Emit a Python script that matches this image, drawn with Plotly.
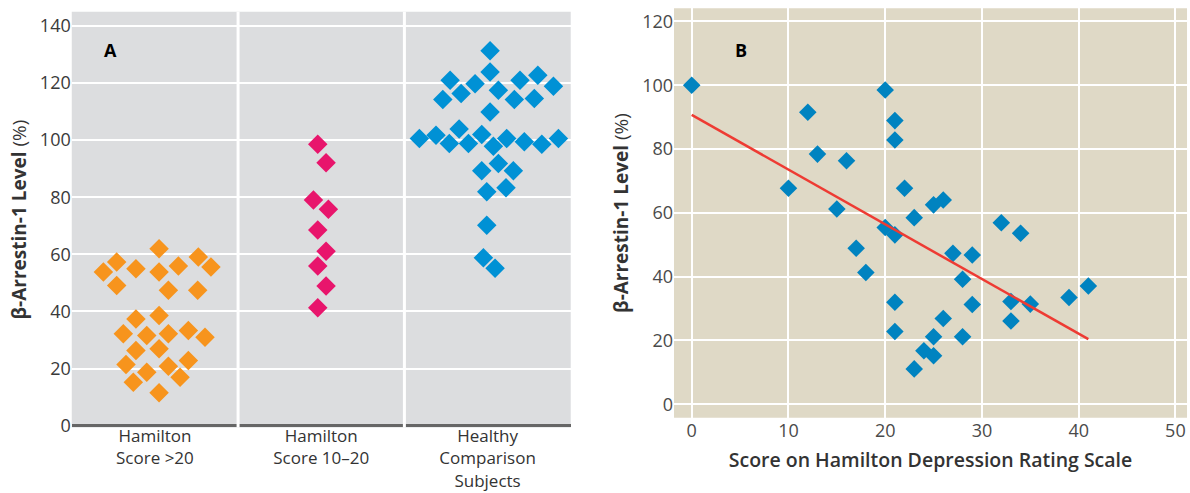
import plotly.graph_objects as go

# ---------------- Panel A data ----------------
categories = ["Hamilton<br>Score >20", "Hamilton<br>Score 10–20", "Healthy<br>Comparison<br>Subjects"]

score_gt20_values = [62.0, 57.3, 53.8, 55.0, 53.8, 55.9, 59.1, 55.6, 49.1, 47.4, 47.4,
                     37.4, 38.6, 32.2, 31.6, 32.2, 33.3, 31.0, 26.3, 26.9, 21.4, 18.7,
                     20.8, 22.8, 15.2, 17.0, 11.5]
score_gt20_jitter = [0.025, -0.230, -0.310, -0.114, 0.025, 0.141, 0.261, 0.337, -0.230, 0.081, 0.257,
                     -0.114, 0.025, -0.190, -0.049, 0.081, 0.201, 0.301, -0.114, 0.025, -0.174, -0.049,
                     0.081, 0.201, -0.130, 0.151, 0.025]

score_10_20_values = [98.6, 92.1, 79.0, 75.8, 68.5, 61.1, 55.9, 48.9, 41.3]
score_10_20_jitter = [-0.021, 0.029, -0.047, 0.043, -0.021, 0.029, -0.021, 0.029, -0.021]

healthy_values = [131.3, 123.9, 121.0, 119.8, 121.0, 122.7, 118.9, 114.2, 116.3, 117.5, 114.2,
                  114.6, 109.9, 100.6, 101.7, 103.9, 98.8, 98.8, 102.0, 97.9, 100.6, 99.4,
                  98.6, 100.6, 91.8, 89.3, 89.3, 81.9, 83.3, 70.2, 58.8, 55.1]
healthy_jitter = [0.015, 0.015, -0.225, -0.075, 0.195, 0.302, 0.396, -0.269, -0.159, 0.065, 0.161,
                  0.281, 0.015, -0.410, -0.310, -0.171, -0.230, -0.115, -0.035, 0.035, 0.115, 0.221,
                  0.326, 0.426, 0.065, -0.035, 0.155, -0.005, 0.111, -0.005, -0.025, 0.045]

a_yticks = [0, 20, 40, 60, 80, 100, 120, 140]

# ---------------- Panel B data ----------------
hamilton_score = [0, 12, 13, 16, 10, 15, 20, 21, 21, 22, 23, 25, 26, 20, 21, 17, 18,
                  27, 29, 28, 21, 29, 32, 34, 33, 35, 39, 41, 26, 33, 21, 25, 28, 24, 25, 23]
arrestin_level = [100, 91.5, 78.4, 76.3, 67.7, 61.2, 98.5, 88.9, 82.8, 67.7, 58.5, 62.5, 64.0,
                  55.4, 53.1, 48.9, 41.3, 47.3, 46.8, 39.2, 32.0, 31.3, 56.9, 53.6, 32.2, 31.4,
                  33.5, 37.1, 26.9, 26.1, 22.8, 21.2, 21.2, 16.8, 15.2, 11.1]
fit_x = [0, 41]
fit_y = [90.7, 20.4]

b_xticks = [0, 10, 20, 30, 40, 50]
b_yticks = [0, 20, 40, 60, 80, 100, 120]

# ---------------- Styles ----------------
ORANGE = "#f7941d"
MAGENTA = "#e8156c"
BLUE_A = "#0091d5"
BLUE_B = "#0083c0"
FIT_RED = "#ee3b33"
BG_A = "#dcdddf"
BG_B = "#dfd9c6"
FONT = "Open Sans, Noto Sans, DejaVu Sans, sans-serif"

fig = go.Figure()

groups = [(score_gt20_values, score_gt20_jitter, ORANGE),
          (score_10_20_values, score_10_20_jitter, MAGENTA),
          (healthy_values, healthy_jitter, BLUE_A)]
for i, (vals, jit, col) in enumerate(groups):
    fig.add_trace(go.Scatter(
        x=[i + j for j in jit], y=vals, mode="markers",
        marker=dict(symbol="diamond", size=15, color=col, line=dict(width=0)),
        xaxis="x", yaxis="y", showlegend=False, hoverinfo="skip"))

fig.add_trace(go.Scatter(
    x=hamilton_score, y=arrestin_level, mode="markers",
    marker=dict(symbol="diamond", size=13.5, color=BLUE_B, line=dict(width=0)),
    xaxis="x2", yaxis="y2", showlegend=False, hoverinfo="skip"))
fig.add_trace(go.Scatter(
    x=fit_x, y=fit_y, mode="lines", line=dict(color=FIT_RED, width=2.5),
    xaxis="x2", yaxis="y2", showlegend=False, hoverinfo="skip"))

shapes = [
    dict(type="rect", xref="x domain", yref="y domain", x0=0, x1=1, y0=0, y1=1,
         fillcolor=BG_A, line=dict(width=0), layer="below"),
    dict(type="rect", xref="x2 domain", yref="y2 domain", x0=0, x1=1, y0=0, y1=1,
         fillcolor=BG_B, line=dict(width=0), layer="below"),
]
for k in range(len(categories) - 1):
    shapes.append(dict(type="line", xref="x", yref="y domain", x0=k + 0.5, x1=k + 0.5,
                       y0=0, y1=1, line=dict(color="white", width=3), layer="above"))

tick_a = dict(family=FONT, size=18, color="#3a3a3a")
tick_b = dict(family=FONT, size=18, color="#4a4a4a")
ytitle_font = dict(family=FONT, size=19, color="#333")

fig.update_layout(
    width=1190, height=493,
    margin=dict(l=0, r=0, t=0, b=0, autoexpand=False),
    paper_bgcolor="white", plot_bgcolor="white",
    font=dict(family=FONT),
    shapes=shapes,
    xaxis=dict(domain=[0.0603, 0.4796], range=[-0.5, 2.5], automargin=False,
               tickmode="array", tickvals=list(range(len(categories))), ticktext=categories,
               showgrid=False, zeroline=False, showline=False, ticks="", ticklabelstandoff=-3,
               tickfont=dict(family=FONT, size=17, color="#333"), fixedrange=True),
    yaxis=dict(domain=[0.1331, 0.9763], range=[-0.6, 145], automargin=False,
               tickmode="array", tickvals=a_yticks,
               showgrid=True, gridcolor="white", gridwidth=2,
               zeroline=True, zerolinecolor="#666666", zerolinewidth=3,
               showline=False, ticks="", tickfont=tick_a,
               title=dict(text="<b>β-Arrestin-1 Level</b> (%)", standoff=8, font=ytitle_font)),
    xaxis2=dict(domain=[0.5664, 0.9975], range=[-1.83, 51.2], anchor="y2", automargin=False,
                tickmode="array", tickvals=b_xticks,
                showgrid=True, gridcolor="white", gridwidth=2, zeroline=False,
                showline=False, ticks="", tickfont=tick_b,
                title=dict(text="Score on Hamilton Depression Rating Scale", standoff=12,
                           font=dict(family=FONT, size=19.5, color="#333", weight=600))),
    yaxis2=dict(domain=[0.1527, 0.9832], range=[-4.2, 124.1], anchor="x2", automargin=False,
                tickmode="array", tickvals=b_yticks,
                showgrid=True, gridcolor="white", gridwidth=2, zeroline=False,
                showline=False, ticks="", tickfont=tick_b,
                title=dict(text="<b>β-Arrestin-1 Level</b> (%)", standoff=8, font=ytitle_font)),
    annotations=[
        dict(text="<b>A</b>", x=-0.267, y=131.5, xref="x", yref="y", showarrow=False,
             font=dict(family=FONT, size=18, color="black")),
        dict(text="<b>B</b>", x=5.07, y=111, xref="x2", yref="y2", showarrow=False,
             font=dict(family=FONT, size=18, color="black")),
    ],
)

fig.write_html("out.html", config={"displayModeBar": False},
               post_script="document.body.style.margin='0';document.body.style.overflow='hidden';")
